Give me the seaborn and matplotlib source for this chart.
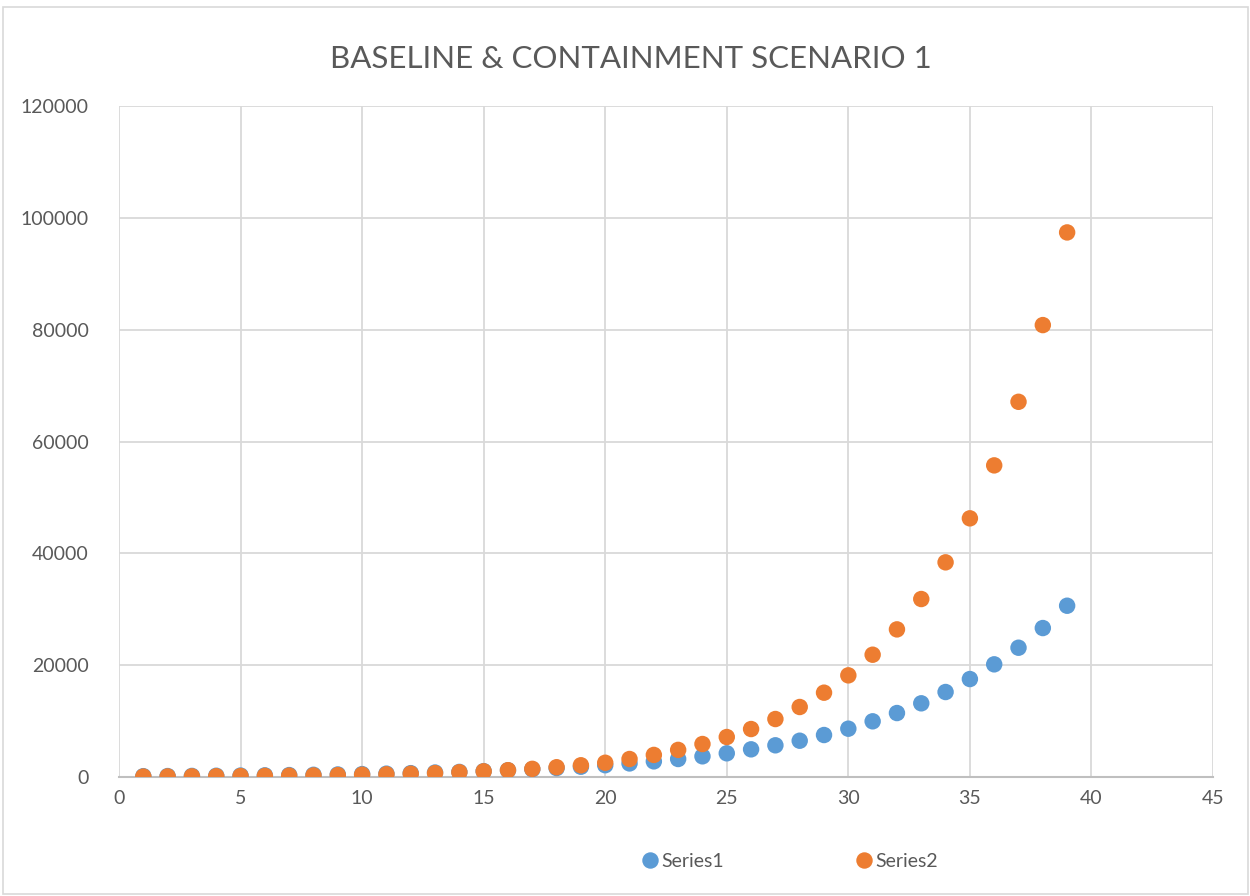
import matplotlib
matplotlib.use("Agg")
import matplotlib.pyplot as plt
import pandas as pd
import seaborn as sns

day = list(range(1, 40))

series1 = [150, 170, 195, 225, 260, 300, 345, 395, 455, 520,
           600, 690, 800, 910, 1050, 1210, 1390, 1600, 1840, 2110,
           2430, 2800, 3220, 3700, 4240, 4950, 5670, 6490, 7510, 8640,
           9960, 11440, 13180, 15200, 17520, 20150, 23120, 26640, 30630]

series2 = [80, 95, 115, 140, 165, 200, 240, 280, 340, 410,
           490, 590, 700, 850, 1020, 1220, 1460, 1750, 2100, 2550,
           3220, 3950, 4850, 5900, 7150, 8580, 10370, 12520, 15080, 18180,
           21870, 26400, 31830, 38390, 46260, 55730, 67100, 80820, 97390]

df = pd.DataFrame({
    "day": day * 2,
    "value": series1 + series2,
    "series": ["Series1"] * len(day) + ["Series2"] * len(day),
})

sns.set_style("white")
plt.rcParams["font.family"] = ["Lato", "DejaVu Sans"]

fig = plt.figure(figsize=(12.5, 8.96), dpi=100)
ax = fig.add_axes([0.0952, 0.1328, 0.8752, 0.7489])

sns.scatterplot(
    data=df,
    x="day",
    y="value",
    hue="series",
    palette={"Series1": "#5b9bd5", "Series2": "#ed7d31"},
    s=140,
    edgecolor="none",
    ax=ax,
    zorder=3,
)

ax.set_xlim(0, 45)
ax.set_ylim(0, 120000)
ax.set_xticks(range(0, 46, 5))
ax.set_yticks(range(0, 120001, 20000))
ax.grid(True, color="#d9d9d9", linewidth=1.3)
ax.set_axisbelow(True)
for side in ["top", "right", "left"]:
    ax.spines[side].set_visible(False)
ax.spines["bottom"].set_color("#bfbfbf")
ax.spines["bottom"].set_linewidth(1.5)
ax.spines["bottom"].set_zorder(2)
ax.tick_params(length=0, labelsize=14, labelcolor="#595959")
ax.tick_params(axis="x", pad=9)
ax.tick_params(axis="y", pad=22)
ax.set_xlabel("")
ax.set_ylabel("")

fig.suptitle("BASELINE & CONTAINMENT SCENARIO 1", x=0.505, y=0.95,
             fontsize=22.5, color="#595959")

ax.legend_.remove()
handles, labels = ax.get_legend_handles_labels()
fig.legend(handles, labels, loc="center", bbox_to_anchor=(0.632, 0.039),
           ncol=2, frameon=False, fontsize=14, labelcolor="#595959",
           columnspacing=6.8, handlelength=0.8, handletextpad=0.2,
           markerscale=1.0)

fig.patches.append(plt.Rectangle((0.002, 0.002), 0.996, 0.99, transform=fig.transFigure,
                                 fill=False, edgecolor="#d9d9d9", linewidth=1.2))

plt.savefig("out.png", dpi=100)
